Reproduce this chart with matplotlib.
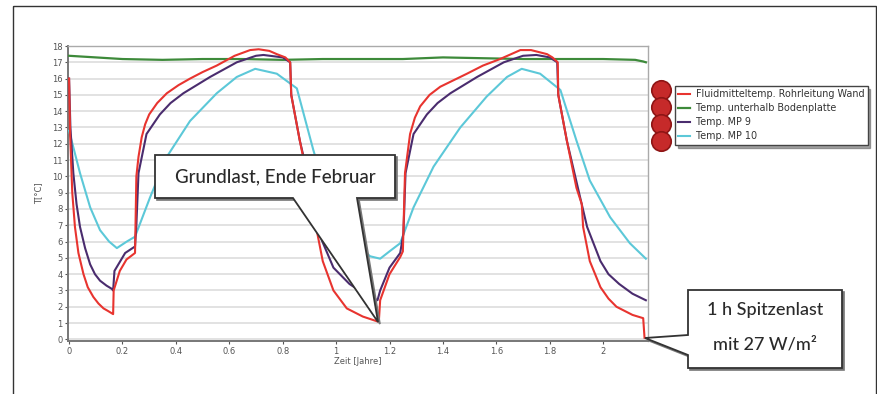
import matplotlib
matplotlib.use('Agg')
import matplotlib.pyplot as plt
from matplotlib.patches import Polygon, Rectangle

# Fluidmitteltemp. Rohrleitung Wand
red_x = [0, 0.004, 0.012, 0.022, 0.035, 0.054, 0.07, 0.091, 0.11, 0.129, 0.145, 0.16,
         0.165, 0.167, 0.19, 0.215, 0.247,
         0.252, 0.26, 0.272, 0.285, 0.30, 0.33, 0.366, 0.41, 0.453, 0.50, 0.553, 0.62,
         0.678, 0.71, 0.75, 0.778, 0.81, 0.828,
         0.832, 0.864, 0.90, 0.925, 0.95, 0.99, 1.04, 1.10, 1.155, 1.16, 1.165, 1.2, 1.24,
         1.25, 1.258, 1.277, 1.295, 1.315, 1.35, 1.39, 1.44, 1.49, 1.55, 1.614, 1.69,
         1.73, 1.79, 1.81, 1.83, 1.832, 1.864, 1.90,
         1.92, 1.925, 1.95, 1.99, 2.02, 2.05, 2.11, 2.15, 2.155]
red_y = [16.0, 12.5, 9.0, 6.9, 5.3, 4.0, 3.2, 2.6, 2.2, 1.9, 1.75, 1.6,
         1.55, 3.0, 4.2, 4.9, 5.3,
         10.0, 11.2, 12.4, 13.2, 13.8, 14.5, 15.1, 15.6, 16.0, 16.4, 16.8, 17.4,
         17.75, 17.8, 17.7, 17.5, 17.3, 17.0,
         15.0, 12.2, 9.3, 6.9, 4.8, 3.0, 1.9, 1.4, 1.1, 1.1, 2.4, 4.0, 5.05,
         5.4, 10.2, 12.6, 13.6, 14.3, 15.0, 15.5, 15.9, 16.3, 16.8, 17.2, 17.75,
         17.75, 17.5, 17.3, 17.0, 15.0, 12.2, 9.3,
         8.3, 6.9, 4.8, 3.2, 2.5, 2.0, 1.5, 1.3, 0.1]

# Temp. unterhalb Bodenplatte
green_x = [0, 0.05, 0.1, 0.2, 0.35, 0.5, 0.65, 0.8, 0.95, 1.1, 1.25, 1.4, 1.55, 1.7,
           1.85, 2.0, 2.12, 2.15, 2.16]
green_y = [17.4, 17.35, 17.3, 17.2, 17.15, 17.2, 17.2, 17.15, 17.2, 17.2, 17.2, 17.3,
           17.25, 17.2, 17.2, 17.2, 17.15, 17.05, 17.0]

# Temp. MP 9
mp9_x = [0, 0.005, 0.016, 0.028, 0.041, 0.06, 0.079, 0.097, 0.116, 0.14, 0.16, 0.165,
         0.17, 0.21, 0.247, 0.252,
         0.26, 0.29, 0.34, 0.38, 0.428, 0.528, 0.628, 0.70, 0.728, 0.80, 0.828, 0.832,
         0.864, 0.914, 0.946, 0.99, 1.05, 1.096, 1.155, 1.165, 1.2, 1.24, 1.252, 1.26,
         1.29, 1.34, 1.38, 1.428, 1.528, 1.628, 1.70, 1.75, 1.80, 1.828, 1.832, 1.864,
         1.914, 1.94, 1.99, 2.02, 2.06, 2.11, 2.16]
mp9_y = [16.0, 13.0, 10.2, 8.3, 6.9, 5.6, 4.6, 4.0, 3.6, 3.3, 3.1, 3.0,
         4.2, 5.3, 5.7, 7.0,
         10.2, 12.6, 13.8, 14.5, 15.1, 16.1, 17.0, 17.4, 17.45, 17.3, 17.0, 15.0,
         12.2, 8.7, 6.1, 4.4, 3.4, 2.9, 2.4, 3.0, 4.4, 5.3, 6.5, 10.2,
         12.6, 13.8, 14.5, 15.1, 16.1, 17.0, 17.4, 17.45, 17.3, 17.0, 15.0, 12.2,
         8.7, 6.9, 4.8, 4.0, 3.4, 2.8, 2.4]

# Temp. MP 10
mp10_x = [0, 0.041, 0.079, 0.116, 0.15, 0.179, 0.216, 0.247, 0.303, 0.366, 0.453, 0.553,
          0.628, 0.697, 0.778, 0.853, 0.915, 0.95, 1.03, 1.1, 1.127, 1.165, 1.2, 1.24,
          1.29, 1.365, 1.465, 1.564, 1.64, 1.695, 1.764, 1.84, 1.9, 1.95, 2.026, 2.1, 2.16]
mp10_y = [12.8, 10.2, 8.1, 6.7, 6.0, 5.6, 6.0, 6.3, 8.7, 11.2, 13.4, 15.1,
          16.1, 16.6, 16.3, 15.4, 11.6, 9.7, 7.3, 5.5, 5.1, 4.95, 5.4, 5.9,
          8.1, 10.6, 13.0, 14.9, 16.1, 16.6, 16.3, 15.3, 12.2, 9.75, 7.5, 5.9, 4.95]

labels = ['Fluidmitteltemp. Rohrleitung Wand', 'Temp. unterhalb Bodenplatte',
          'Temp. MP 9', 'Temp. MP 10']
colors = ['#e8342f', '#3d8a3a', '#4a2c6e', '#5cc8d8']
xticks = [0, 0.2, 0.4, 0.6, 0.8, 1, 1.2, 1.4, 1.6, 1.8, 2]
xticklabels = ['0', '0.2', '0.4', '0.6', '0.8', '1', '1.2', '1.4', '1.6', '1.8', '2']

W, H = 878, 394
fig = plt.figure(figsize=(W / 100, H / 100), dpi=100)
ax = fig.add_axes([68 / W, 1 - 341 / H, (648 - 68) / W, (341 - 46) / H])

ax.plot(mp10_x, mp10_y, color=colors[3], lw=1.5, label=labels[3], zorder=3)
ax.plot(green_x, green_y, color=colors[1], lw=1.6, label=labels[1], zorder=3)
ax.plot(mp9_x, mp9_y, color=colors[2], lw=1.5, label=labels[2], zorder=4)
ax.plot(red_x, red_y, color=colors[0], lw=1.5, label=labels[0], zorder=5)

ax.set_xlim(-0.004, 2.168)
ax.set_ylim(-0.1, 18.0)
ax.set_yticks(range(0, 19))
ax.set_xticks(xticks)
ax.set_xticklabels(xticklabels)
ax.tick_params(labelsize=6, colors='#555555', length=2, width=0.8, pad=2)
ax.yaxis.grid(True, color='#dddddd', lw=1.2)
ax.set_axisbelow(True)
for s in ['left', 'bottom']:
    ax.spines[s].set_color('#777777')
    ax.spines[s].set_linewidth(1.4)
for s in ['top', 'right']:
    ax.spines[s].set_color('#aaaaaa')
    ax.spines[s].set_linewidth(1.0)
ax.set_xlabel('Zeit [Jahre]', fontsize=6, color='#555555', labelpad=1)
ax.set_ylabel('T[°C]', fontsize=6, color='#555555', labelpad=6)

h, l = ax.get_legend_handles_labels()
order = [3, 1, 2, 0]
leg = fig.legend([h[i] for i in order], [l[i] for i in order],
                 loc='upper left', bbox_to_anchor=(675 / W, 1 - 86 / H),
                 fontsize=6.9, frameon=True, fancybox=False, shadow=True,
                 edgecolor='#444444', framealpha=1, handlelength=1.2,
                 handletextpad=0.6, labelspacing=0.42, borderpad=0.35,
                 borderaxespad=0)
for t in leg.get_texts():
    t.set_color('#333333')

# overlay in pixel coordinates for frame, markers and callouts
ov = fig.add_axes([0, 0, 1, 1], zorder=3)
ov.set_xlim(0, W)
ov.set_ylim(H, 0)
ov.axis('off')
ov.patch.set_alpha(0)

ov.add_patch(Rectangle((13, 6), 863, 400, fill=False, edgecolor='#333333', lw=1.0))

for yy in [90, 107, 124, 141]:
    ov.plot(661, yy, 'o', ms=14, color='#c62a2a', mec='#8e1515', mew=1.2)

call1 = [(155, 155), (395, 155), (395, 198), (357, 198), (378, 322), (293, 198), (155, 198)]
call2 = [(688, 290), (842, 290), (842, 368), (688, 368), (688, 355), (645, 338), (688, 335)]
for pts in [call1, call2]:
    ov.add_patch(Polygon([(x + 2, y + 2) for x, y in pts], closed=True,
                         facecolor='#777777', edgecolor='#777777', lw=1.2))
    ov.add_patch(Polygon(pts, closed=True, facecolor='white',
                         edgecolor='#333333', lw=1.3))

ov.text(275, 177, 'Grundlast, Ende Februar', fontsize=13.5, family='Lato',
        color='#2a2a2a', ha='center', va='center', fontweight='medium')
ov.text(765, 310, '1 h Spitzenlast', fontsize=13, family='Lato',
        color='#2a2a2a', ha='center', va='center', fontweight='medium')
ov.text(765, 344, 'mit 27 W/m²', fontsize=13, family='Lato',
        color='#2a2a2a', ha='center', va='center', fontweight='medium')

fig.savefig('out.png', dpi=100)
